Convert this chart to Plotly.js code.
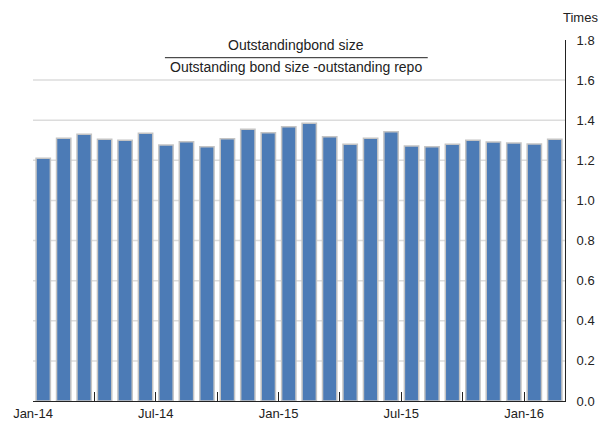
<!DOCTYPE html>
<html>
<head>
<meta charset="utf-8">
<script src="https://cdn.plot.ly/plotly-3.0.1.min.js"></script>
<style>html,body{margin:0;padding:0;background:#fff;}#chart{width:599px;height:424px;}</style>
</head>
<body>
<div id="chart"></div>
<script>
const months = ["Jan-14","Feb-14","Mar-14","Apr-14","May-14","Jun-14","Jul-14","Aug-14","Sep-14","Oct-14","Nov-14","Dec-14",
  "Jan-15","Feb-15","Mar-15","Apr-15","May-15","Jun-15","Jul-15","Aug-15","Sep-15","Oct-15","Nov-15","Dec-15",
  "Jan-16","Feb-16"];
const ratio = [1.21,1.31,1.33,1.305,1.30,1.335,1.277,1.293,1.268,1.307,1.355,1.337,
  1.368,1.385,1.318,1.28,1.31,1.342,1.272,1.268,1.28,1.30,1.292,1.287,1.282,1.305];
const xTickLabels = ["Jan-14","","Jul-14","","Jan-15","","Jul-15","","Jan-16"];
const yTicks = [0,0.2,0.4,0.6,0.8,1.0,1.2,1.4,1.6,1.8];
const gridValues = [0.2,0.4,0.6,0.8,1.0,1.2,1.4,1.6];

const xPos = months.map((m,i)=>i+0.5);
const xTickVals = xTickLabels.map((t,i)=>i*3);

const font = {family:"Liberation Sans, Arial, Helvetica, sans-serif", size:13, color:"#222"};
const annFont = {family:"Liberation Sans, Arial, Helvetica, sans-serif", size:14, color:"#222"};

const trace = {
  type:"bar", x:xPos, y:ratio, hovertext:months, hoverinfo:"text+y", textposition:"none",
  marker:{color:"#4c7bb6", line:{color:"#c4c4c4", width:1.5}}
};

const shapes = gridValues.map(v=>({type:"line", xref:"paper", x0:0, x1:1, yref:"y", y0:v, y1:v,
  line:{color:"#dcdcdc", width:1.5}, layer:"below"}));
shapes.push({type:"line", xref:"paper", yref:"paper", x0:0.248, x1:0.742, y0:0.951, y1:0.951, line:{color:"#222", width:1}});

const layout = {
  width:599, height:424,
  margin:{l:33, r:34, t:40, b:23},
  paper_bgcolor:"#fff", plot_bgcolor:"#fff",
  font:font, showlegend:false, bargap:0.3,
  xaxis:{range:[0,26], tickvals:xTickVals, ticktext:xTickLabels, ticks:"inside", ticklen:9, tickcolor:"#222", tickwidth:1,
    showline:true, linecolor:"#222", linewidth:1, showgrid:false, zeroline:false, tickfont:font, fixedrange:true},
  yaxis:{range:[0,1.8], side:"right", tickvals:yTicks, ticktext:yTicks.map(v=>v.toFixed(1)), showgrid:false, zeroline:false,
    showline:true, linecolor:"#222", linewidth:1, ticks:"", tickfont:font, ticklabelstandoff:8, fixedrange:true},
  shapes:shapes,
  annotations:[
    {xref:"paper", yref:"paper", x:0.494, y:0.986, text:"Outstandingbond size", showarrow:false, font:annFont, xanchor:"center", yanchor:"middle"},
    {xref:"paper", yref:"paper", x:0.494, y:0.925, text:"Outstanding bond size -outstanding repo", showarrow:false, font:annFont, xanchor:"center", yanchor:"middle"},
    {xref:"paper", yref:"paper", x:1.03, y:1.061, text:"Times", showarrow:false, font:font, xanchor:"center", yanchor:"middle"}
  ]
};

Plotly.newPlot("chart", [trace], layout, {displayModeBar:false, staticPlot:true});
</script>
</body>
</html>
